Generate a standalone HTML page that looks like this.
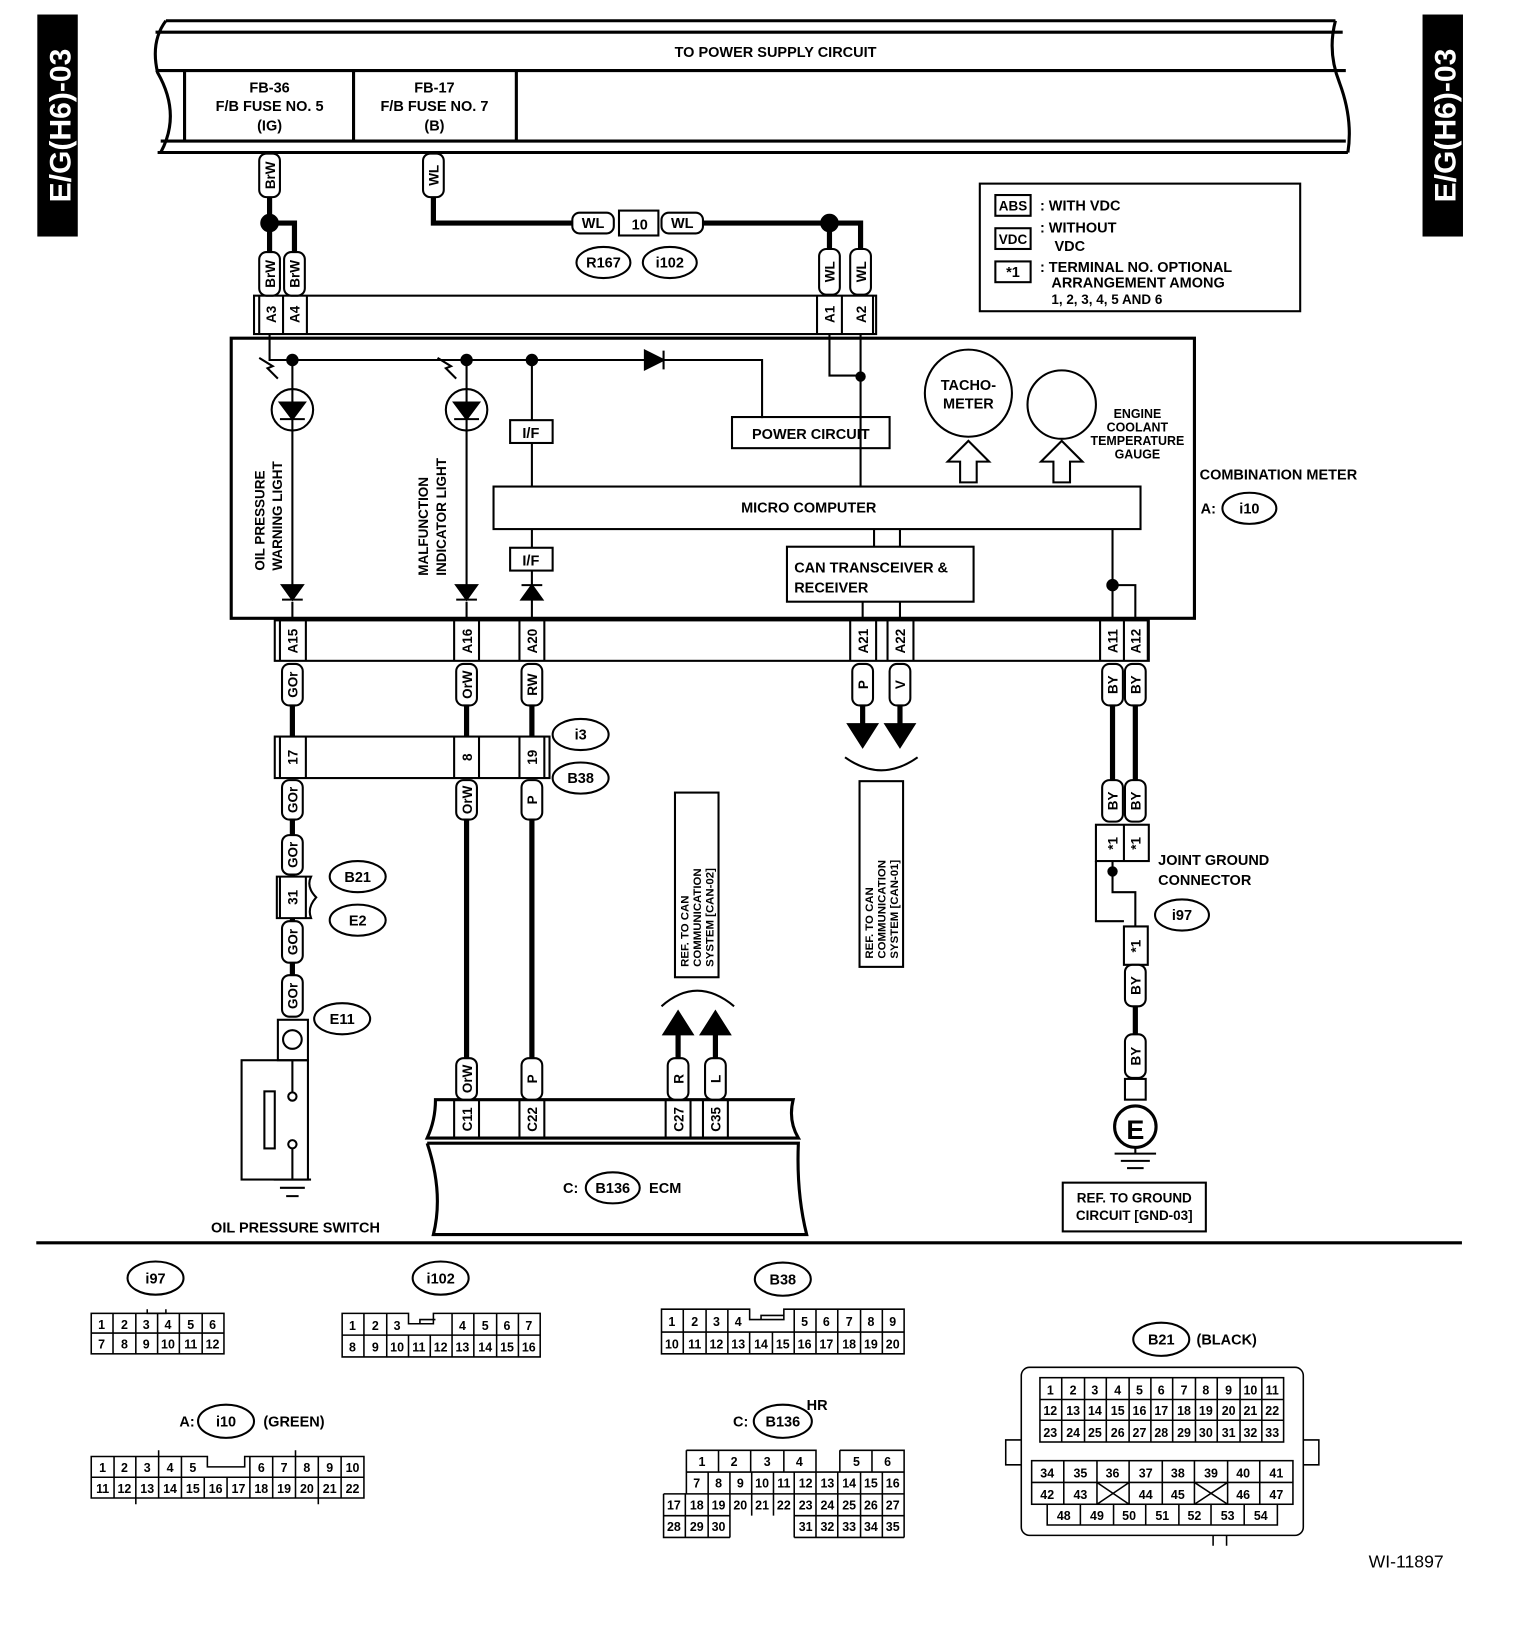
<!DOCTYPE html>
<html><head><meta charset="utf-8"><style>
html,body{margin:0;padding:0;background:#fff}
svg{display:block}
text{font-family:"Liberation Sans",sans-serif;font-weight:bold;fill:#000}
.t{font-size:14px}
.s{font-size:12px;font-weight:normal}
</style></head><body>
<svg width="1520" height="1636" viewBox="0 0 1466 1577" preserveAspectRatio="none" xmlns="http://www.w3.org/2000/svg">
<g fill="none" stroke="#000" stroke-width="2">
<rect x="37" y="15" width="37" height="212" fill="#000"/>
<rect x="1373" y="15" width="37" height="212" fill="#000"/>
<path d="M160 20 H1288 M150 31 H1295 M150 68 H1298 M155 136 H1298 M152 147 H1300" stroke-width="3"/>
<path d="M160 20 Q145 40 152 70 Q175 110 155 147" stroke-width="3"/>
<path d="M1288 20 Q1280 50 1292 80 Q1305 115 1300 147" stroke-width="3"/>
<path d="M178 68 V136 M341 68 V136 M498 68 V136" stroke-width="3"/>
<g stroke-width="5">
<path d="M260 190 V245 M260 215 H284 V245"/>
<path d="M418 190 V215 H555 M678 215 H800 V240 M800 215 H830 V240"/>
</g>
<circle cx="260" cy="215" r="8" fill="#000"/>
<circle cx="800" cy="215" r="8" fill="#000"/>
<rect x="597" y="203" width="38" height="24"/>
<rect x="245" y="285" width="600" height="37"/>
<path d="M250 285 V322 M273 285 V322 M296 285 V322 M788 285 V322 M812 285 V322 M842 285 V322"/>
<rect x="223" y="326" width="929" height="270" stroke-width="3"/>
<path d="M260 322 V347 H735 V403 M282 347 V565 M450 347 V565 M513 347 V405 M513 427 V469 M513 510 V528 M513 550 V596 M282 580 V598 M450 580 V598"/>
<path d="M800 322 V362 H830 M830 322 V469"/>
<circle cx="830" cy="363" r="4" fill="#000"/>
<circle cx="282" cy="347" r="5" fill="#000"/><circle cx="450" cy="347" r="5" fill="#000"/><circle cx="513" cy="347" r="5" fill="#000"/>
<path d="M622 338 L640 347 L622 356 Z M640 338 V356" fill="#000"/>
<circle cx="282" cy="395" r="20"/><circle cx="450" cy="395" r="20"/>
<path d="M270 388 H294 L282 404 Z M270 404 H294 M438 388 H462 L450 404 Z M438 404 H462" fill="#000"/>
<path d="M268 365 L258 355 L263 353 L250 345 M440 365 L430 355 L435 353 L422 345"/>
<path d="M272 564 H292 L282 578 Z M272 578 H292 M440 564 H460 L450 578 Z M440 578 H460 M503 578 H523 L513 564 Z M503 564 H523" fill="#000"/>
<rect x="492" y="405" width="41" height="22"/><rect x="492" y="528" width="41" height="22"/>
<rect x="706" y="402" width="152" height="30"/>
<rect x="476" y="469" width="624" height="41"/>
<rect x="759" y="527" width="180" height="53"/>
<circle cx="934" cy="379" r="42"/><circle cx="1024" cy="390" r="33"/>
<path d="M926 465 V445 H914 L934 425 L954 445 H942 V465 Z M1016 465 V445 H1004 L1024 425 L1044 445 H1032 V465 Z"/>
<path d="M843 510 V527 M868 510 V527 M832 580 V598 M868 580 V598 M1073 510 V596 M1073 564 H1095 V596"/>
<circle cx="1073" cy="564" r="5" fill="#000"/>
<rect x="265" y="598" width="843" height="39"/>
<path d="M270 598 V637 M295 598 V637 M438 598 V637 M462 598 V637 M501 598 V637 M525 598 V637 M820 598 V637 M845 598 V637 M856 598 V637 M881 598 V637 M1061 598 V637 M1084 598 V637 M1107 598 V637"/>
<g stroke-width="5">
<path d="M282 680 V710 M450 680 V710 M513 680 V710 M282 790 V805 M282 842 V845 M282 885 V888 M282 928 V940 M450 790 V1020 M513 790 V1020 M1073 680 V752 M1095 680 V752 M1095 970 V997 M832 680 V700 M868 680 V700 M654 995 V1020 M690 995 V1020"/>
</g>
<path d="M818 698 H846 L832 720 Z M854 698 H882 L868 720 Z M640 997 H668 L654 975 Z M676 997 H704 L690 975 Z" fill="#000"/>
<path d="M815 730 Q850 755 885 730 M638 970 Q672 940 708 970"/>
<rect x="265" y="710" width="265" height="40"/>
<path d="M270 710 V750 M295 710 V750 M438 710 V750 M462 710 V750 M501 710 V750 M525 710 V750"/>
<path d="M267 845 H300 Q295 855 305 865 Q296 875 300 885 H267 Z M270 845 V885 M295 845 V885"/>
<rect x="268" y="983" width="29" height="39"/><circle cx="282" cy="1002" r="9"/>
<rect x="233" y="1022" width="64" height="115"/>
<rect x="255" y="1052" width="10" height="55"/>
<circle cx="282" cy="1057" r="4"/><circle cx="282" cy="1103" r="4"/>
<path d="M282 1022 V1053 M282 1107 V1137 M264 1137 H300 M270 1145 H294 M276 1153 H288"/>
<rect x="651" y="764" width="42" height="178"/>
<rect x="829" y="753" width="42" height="179"/>
<path d="M420 1060 H765 Q760 1080 770 1097 H412 Q420 1080 420 1060 Z" stroke-width="3"/>
<path d="M438 1060 V1097 M462 1060 V1097 M501 1060 V1097 M525 1060 V1097 M642 1060 V1097 M666 1060 V1097 M678 1060 V1097 M702 1060 V1097"/>
<path d="M412 1102 H770 Q768 1150 778 1190 H418 Q428 1150 412 1102" stroke-width="3"/>
<rect x="1057" y="795" width="51" height="35"/>
<path d="M1084 795 V830 M1057 830 V888 H1084 M1073 830 V860 H1095 V893 M1084 893 H1107 V930 H1084 Z"/>
<circle cx="1073" cy="840" r="4" fill="#000"/>
<rect x="1085" y="1040" width="20" height="20"/>
<circle cx="1095" cy="1086" r="20" stroke-width="3"/>
<path d="M1095 1106 V1112 M1075 1112 H1115 M1081 1119 H1109 M1087 1126 H1103"/>
<rect x="1025" y="1140" width="138" height="47"/>
<rect x="945" y="177" width="309" height="123"/>
<rect x="960" y="188" width="34" height="20"/><rect x="960" y="220" width="34" height="20"/><rect x="960" y="252" width="34" height="20"/>
<path d="M35 1198 H1410" stroke-width="3"/>
</g>
<g fill="#fff" stroke="#000" stroke-width="2">
<rect x="250" y="148" width="20" height="42" rx="7"/>
<rect x="408" y="148" width="20" height="42" rx="7"/>
<rect x="250" y="243" width="20" height="42" rx="7"/><rect x="274" y="243" width="20" height="42" rx="7"/>
<rect x="790" y="240" width="20" height="44" rx="7"/><rect x="820" y="240" width="20" height="44" rx="7"/>
<rect x="552" y="205" width="40" height="20" rx="7"/><rect x="638" y="205" width="40" height="20" rx="7"/>
<rect x="272" y="640" width="20" height="40" rx="7"/><rect x="440" y="640" width="20" height="40" rx="7"/><rect x="503" y="640" width="20" height="40" rx="7"/>
<rect x="822" y="640" width="20" height="40" rx="7"/><rect x="858" y="640" width="20" height="40" rx="7"/>
<rect x="1063" y="640" width="20" height="40" rx="7"/><rect x="1085" y="640" width="20" height="40" rx="7"/>
<rect x="272" y="752" width="20" height="38" rx="7"/><rect x="440" y="752" width="20" height="38" rx="7"/><rect x="503" y="752" width="20" height="38" rx="7"/>
<rect x="272" y="805" width="20" height="38" rx="7"/><rect x="272" y="888" width="20" height="40" rx="7"/><rect x="272" y="940" width="20" height="40" rx="7"/>
<rect x="440" y="1020" width="20" height="40" rx="7"/><rect x="503" y="1020" width="20" height="40" rx="7"/>
<rect x="644" y="1020" width="20" height="40" rx="7"/><rect x="680" y="1020" width="20" height="40" rx="7"/>
<rect x="1063" y="752" width="20" height="40" rx="7"/><rect x="1085" y="752" width="20" height="40" rx="7"/>
<rect x="1085" y="930" width="20" height="40" rx="7"/><rect x="1085" y="997" width="20" height="42" rx="7"/>
<ellipse cx="582" cy="253" rx="26" ry="15"/><ellipse cx="646" cy="253" rx="26" ry="15"/>
<ellipse cx="1205" cy="490" rx="26" ry="15"/>
<ellipse cx="560" cy="708" rx="27" ry="15"/><ellipse cx="560" cy="750" rx="27" ry="15"/>
<ellipse cx="345" cy="845" rx="27" ry="15"/><ellipse cx="345" cy="887" rx="27" ry="15"/>
<ellipse cx="330" cy="982" rx="27" ry="15"/><ellipse cx="1140" cy="882" rx="26" ry="15"/>
<ellipse cx="591" cy="1145" rx="26" ry="15"/>
<ellipse cx="150" cy="1232" rx="27" ry="16"/><ellipse cx="425" cy="1232" rx="27" ry="16"/><ellipse cx="755" cy="1233" rx="27" ry="16"/>
<ellipse cx="218" cy="1370" rx="27" ry="16"/><ellipse cx="755" cy="1370" rx="28" ry="16"/><ellipse cx="1120" cy="1291" rx="27" ry="16"/>
</g>
<g class="t">
<text x="0" y="0" transform="translate(68,121) rotate(-90)" text-anchor="middle" style="font-size:29px;fill:#fff">E/G(H6)-03</text>
<text x="0" y="0" transform="translate(1404,121) rotate(-90)" text-anchor="middle" style="font-size:29px;fill:#fff">E/G(H6)-03</text>
<text x="748" y="55" text-anchor="middle">TO POWER SUPPLY CIRCUIT</text>
<g text-anchor="middle"><text x="260" y="89">FB-36</text><text x="260" y="107">F/B FUSE NO. 5</text><text x="260" y="126">(IG)</text>
<text x="419" y="89">FB-17</text><text x="419" y="107">F/B FUSE NO. 7</text><text x="419" y="126">(B)</text>
<text x="572" y="220">WL</text><text x="617" y="221">10</text><text x="658" y="220">WL</text>
<text x="582" y="258">R167</text><text x="646" y="258">i102</text>
<text x="512" y="422">I/F</text><text x="512" y="545">I/F</text>
<text x="782" y="423">POWER CIRCUIT</text><text x="780" y="494">MICRO COMPUTER</text>
<text x="934" y="376">TACHO-</text><text x="934" y="394">METER</text>
<text x="1205" y="495">i10</text><text x="560" y="713">i3</text><text x="560" y="755">B38</text>
<text x="345" y="850">B21</text><text x="345" y="892">E2</text><text x="330" y="987">E11</text><text x="1140" y="887">i97</text>
<text x="591" y="1150">B136</text>
<text x="285" y="1188">OIL PRESSURE SWITCH</text>
<text x="1095" y="1098" style="font-size:26px">E</text>
<text x="1094" y="1159" style="font-size:13px">REF. TO GROUND</text><text x="1094" y="1176" style="font-size:13px">CIRCUIT [GND-03]</text>
<text x="977" y="203" style="font-size:13px">ABS</text><text x="977" y="235" style="font-size:13px">VDC</text><text x="977" y="267">*1</text>
</g>
<text x="766" y="552">CAN TRANSCEIVER &amp;</text><text x="766" y="571">RECEIVER</text>
<g style="font-size:12px" text-anchor="middle"><text x="1097" y="403">ENGINE</text><text x="1097" y="416">COOLANT</text><text x="1097" y="429">TEMPERATURE</text><text x="1097" y="442">GAUGE</text></g>
<text x="1157" y="462">COMBINATION METER</text><text x="1158" y="495">A:</text>
<text x="1117" y="834">JOINT GROUND</text><text x="1117" y="853">CONNECTOR</text>
<text x="543" y="1150">C:</text><text x="626" y="1150">ECM</text>
<text x="1003" y="203">:  WITH VDC</text><text x="1003" y="224">:  WITHOUT</text><text x="1017" y="242">VDC</text>
<text x="1003" y="262">:  TERMINAL NO. OPTIONAL</text><text x="1014" y="277">ARRANGEMENT AMONG</text><text x="1014" y="293" style="font-size:13px">1, 2, 3, 4, 5 AND 6</text>
<g text-anchor="middle" style="font-size:13px">
<text transform="translate(265,169) rotate(-90)">BrW</text><text transform="translate(423,169) rotate(-90)">WL</text>
<text transform="translate(265,264) rotate(-90)">BrW</text><text transform="translate(289,264) rotate(-90)">BrW</text>
<text transform="translate(805,262) rotate(-90)">WL</text><text transform="translate(835,262) rotate(-90)">WL</text>
<text transform="translate(266,303) rotate(-90)">A3</text><text transform="translate(289,303) rotate(-90)">A4</text>
<text transform="translate(805,303) rotate(-90)">A1</text><text transform="translate(835,303) rotate(-90)">A2</text>
<text transform="translate(287,618) rotate(-90)">A15</text><text transform="translate(455,618) rotate(-90)">A16</text><text transform="translate(518,618) rotate(-90)">A20</text>
<text transform="translate(837,618) rotate(-90)">A21</text><text transform="translate(873,618) rotate(-90)">A22</text>
<text transform="translate(1078,618) rotate(-90)">A11</text><text transform="translate(1100,618) rotate(-90)">A12</text>
<text transform="translate(287,660) rotate(-90)">GOr</text><text transform="translate(455,660) rotate(-90)">OrW</text><text transform="translate(518,660) rotate(-90)">RW</text>
<text transform="translate(837,660) rotate(-90)">P</text><text transform="translate(873,660) rotate(-90)">V</text>
<text transform="translate(1078,660) rotate(-90)">BY</text><text transform="translate(1100,660) rotate(-90)">BY</text>
<text transform="translate(287,730) rotate(-90)">17</text><text transform="translate(455,730) rotate(-90)">8</text><text transform="translate(518,730) rotate(-90)">19</text>
<text transform="translate(287,771) rotate(-90)">GOr</text><text transform="translate(455,771) rotate(-90)">OrW</text><text transform="translate(518,771) rotate(-90)">P</text>
<text transform="translate(287,824) rotate(-90)">GOr</text><text transform="translate(287,865) rotate(-90)">31</text>
<text transform="translate(287,908) rotate(-90)">GOr</text><text transform="translate(287,960) rotate(-90)">GOr</text>
<text transform="translate(455,1040) rotate(-90)">OrW</text><text transform="translate(518,1040) rotate(-90)">P</text>
<text transform="translate(659,1040) rotate(-90)">R</text><text transform="translate(695,1040) rotate(-90)">L</text>
<text transform="translate(455,1079) rotate(-90)">C11</text><text transform="translate(518,1079) rotate(-90)">C22</text>
<text transform="translate(659,1079) rotate(-90)">C27</text><text transform="translate(695,1079) rotate(-90)">C35</text>
<text transform="translate(1078,772) rotate(-90)">BY</text><text transform="translate(1100,772) rotate(-90)">BY</text>
<text transform="translate(1078,813) rotate(-90)">*1</text><text transform="translate(1100,813) rotate(-90)">*1</text>
<text transform="translate(1100,912) rotate(-90)">*1</text>
<text transform="translate(1100,950) rotate(-90)">BY</text><text transform="translate(1100,1018) rotate(-90)">BY</text>
</g>
<g style="font-size:13px">
<text transform="translate(255,550) rotate(-90)">OIL PRESSURE</text><text transform="translate(272,550) rotate(-90)">WARNING LIGHT</text>
<text transform="translate(413,555) rotate(-90)">MALFUNCTION</text><text transform="translate(430,555) rotate(-90)">INDICATOR LIGHT</text>
</g>
<g style="font-size:11px">
<text transform="translate(664,932) rotate(-90)">REF. TO CAN</text><text transform="translate(676,932) rotate(-90)">COMMUNICATION</text><text transform="translate(688,932) rotate(-90)">SYSTEM [CAN-02]</text>
<text transform="translate(842,924) rotate(-90)">REF. TO CAN</text><text transform="translate(854,924) rotate(-90)">COMMUNICATION</text><text transform="translate(866,924) rotate(-90)">SYSTEM [CAN-01]</text>
</g>
<g text-anchor="middle"><text x="150" y="1237">i97</text><text x="425" y="1237">i102</text><text x="755" y="1238">B38</text>
<text x="218" y="1375">i10</text><text x="755" y="1375">B136</text><text x="1120" y="1296">B21</text></g>
<text x="173" y="1375">A:</text><text x="254" y="1375">(GREEN)</text>
<text x="707" y="1375">C:</text><text x="778" y="1359">HR</text><text x="1154" y="1296">(BLACK)</text>
<text x="1320" y="1511" style="font-size:17px;font-weight:normal">WI-11897</text>
</g>
<g fill="none" stroke="#000" stroke-width="1.5">
<rect x="88" y="1266" width="128" height="39"/><path d="M88 1285 H216 M109 1266 V1305 M131 1266 V1305 M152 1266 V1305 M173 1266 V1305 M195 1266 V1305 M142 1262 V1266 H160 V1262"/>
<path d="M330 1266 H394 V1276 H418 V1266 H521 V1308 H330 Z M330 1287 H521 M351 1266 V1308 M373 1266 V1308 M394 1287 V1308 M415 1287 V1308 M436 1266 V1308 M457 1266 V1308 M479 1266 V1308 M500 1266 V1308 M405 1276 V1272 H420"/>
<path d="M638 1262 H723 V1272 H756 V1262 H872 V1305 H638 Z M638 1284 H872 M659 1262 V1305 M681 1262 V1305 M702 1262 V1305 M723 1284 V1305 M745 1284 V1305 M766 1262 V1305 M787 1262 V1305 M808 1262 V1305 M830 1262 V1305 M851 1262 V1305 M734 1272 V1268 H756"/>
<path d="M88 1404 H200 V1414 H236 V1404 H351 V1444 H88 Z M88 1424 H351 M110 1404 V1444 M131 1404 V1444 M153 1404 V1444 M175 1404 V1444 M197 1424 V1444 M219 1424 V1444 M241 1404 V1444 M263 1404 V1444 M285 1404 V1444 M307 1404 V1444 M329 1404 V1444 M153 1398 V1404 M285 1398 V1404 M131 1444 V1450 M307 1444 V1450"/>
<path d="M662 1398 H787 V1419 M662 1398 V1440 M693 1398 V1419 M724 1398 V1419 M756 1398 V1419 M810 1398 H872 V1482 M810 1398 V1419 M841 1398 V1419 M662 1419 H872 M640 1440 H872 M640 1440 V1482 H704 M704 1440 V1482 M766 1482 H872 M766 1440 V1482 M640 1461 H704 M766 1461 H872 M683 1419 V1482 M704 1419 V1440 M725 1419 V1461 M746 1419 V1461 M766 1419 V1440 M787 1419 V1482 M808 1419 V1482 M830 1419 V1482 M851 1419 V1482 M661 1440 V1482 M683 1440 V1482"/>
<rect x="985" y="1318" width="272" height="162" rx="8"/>
<path d="M985 1388 H970 V1412 H985 M1257 1388 H1272 V1412 H1257 M1170 1480 V1490 M1183 1480 V1490"/>
<rect x="1003" y="1328" width="235" height="62"/>
<path d="M1003 1349 H1238 M1003 1369 H1238 M1024 1328 V1390 M1046 1328 V1390 M1067 1328 V1390 M1089 1328 V1390 M1110 1328 V1390 M1131 1328 V1390 M1153 1328 V1390 M1174 1328 V1390 M1196 1328 V1390 M1217 1328 V1390"/>
<rect x="995" y="1408" width="252" height="42"/>
<path d="M995 1429 H1247 M1026 1408 V1450 M1058 1408 V1450 M1089 1408 V1450 M1121 1408 V1450 M1152 1408 V1450 M1184 1408 V1450 M1215 1408 V1450 M1058 1429 L1089 1450 M1089 1429 L1058 1450 M1152 1429 L1184 1450 M1184 1429 L1152 1450"/>
<path d="M1010 1450 V1470 H1232 V1450 M1042 1450 V1470 M1074 1450 V1470 M1105 1450 V1470 M1137 1450 V1470 M1168 1450 V1470 M1200 1450 V1470"/>
</g>
<g class="s" text-anchor="middle">
<text x="98" y="1281">1</text><text x="120" y="1281">2</text><text x="141" y="1281">3</text><text x="162" y="1281">4</text><text x="184" y="1281">5</text><text x="205" y="1281">6</text>
<text x="98" y="1300">7</text><text x="120" y="1300">8</text><text x="141" y="1300">9</text><text x="162" y="1300">10</text><text x="184" y="1300">11</text><text x="205" y="1300">12</text>
<text x="340" y="1282">1</text><text x="362" y="1282">2</text><text x="383" y="1282">3</text><text x="446" y="1282">4</text><text x="468" y="1282">5</text><text x="489" y="1282">6</text><text x="510" y="1282">7</text>
<text x="340" y="1303">8</text><text x="362" y="1303">9</text><text x="383" y="1303">10</text><text x="404" y="1303">11</text><text x="425" y="1303">12</text><text x="446" y="1303">13</text><text x="468" y="1303">14</text><text x="489" y="1303">15</text><text x="510" y="1303">16</text>
<text x="648" y="1278">1</text><text x="670" y="1278">2</text><text x="691" y="1278">3</text><text x="712" y="1278">4</text><text x="776" y="1278">5</text><text x="797" y="1278">6</text><text x="819" y="1278">7</text><text x="840" y="1278">8</text><text x="861" y="1278">9</text>
<text x="648" y="1300">10</text><text x="670" y="1300">11</text><text x="691" y="1300">12</text><text x="712" y="1300">13</text><text x="734" y="1300">14</text><text x="755" y="1300">15</text><text x="776" y="1300">16</text><text x="797" y="1300">17</text><text x="819" y="1300">18</text><text x="840" y="1300">19</text><text x="861" y="1300">20</text>
<text x="99" y="1419">1</text><text x="120" y="1419">2</text><text x="142" y="1419">3</text><text x="164" y="1419">4</text><text x="186" y="1419">5</text><text x="252" y="1419">6</text><text x="274" y="1419">7</text><text x="296" y="1419">8</text><text x="318" y="1419">9</text><text x="340" y="1419">10</text>
<text x="99" y="1439">11</text><text x="120" y="1439">12</text><text x="142" y="1439">13</text><text x="164" y="1439">14</text><text x="186" y="1439">15</text><text x="208" y="1439">16</text><text x="230" y="1439">17</text><text x="252" y="1439">18</text><text x="274" y="1439">19</text><text x="296" y="1439">20</text><text x="318" y="1439">21</text><text x="340" y="1439">22</text>
<text x="677" y="1413">1</text><text x="708" y="1413">2</text><text x="740" y="1413">3</text><text x="771" y="1413">4</text><text x="826" y="1413">5</text><text x="856" y="1413">6</text>
<text x="672" y="1434">7</text><text x="693" y="1434">8</text><text x="714" y="1434">9</text><text x="735" y="1434">10</text><text x="756" y="1434">11</text><text x="777" y="1434">12</text><text x="798" y="1434">13</text><text x="819" y="1434">14</text><text x="840" y="1434">15</text><text x="861" y="1434">16</text>
<text x="650" y="1455">17</text><text x="672" y="1455">18</text><text x="693" y="1455">19</text><text x="714" y="1455">20</text><text x="735" y="1455">21</text><text x="756" y="1455">22</text><text x="777" y="1455">23</text><text x="798" y="1455">24</text><text x="819" y="1455">25</text><text x="840" y="1455">26</text><text x="861" y="1455">27</text>
<text x="650" y="1476">28</text><text x="672" y="1476">29</text><text x="693" y="1476">30</text><text x="777" y="1476">31</text><text x="798" y="1476">32</text><text x="819" y="1476">33</text><text x="840" y="1476">34</text><text x="861" y="1476">35</text>
<text x="1013" y="1344">1</text><text x="1035" y="1344">2</text><text x="1056" y="1344">3</text><text x="1078" y="1344">4</text><text x="1099" y="1344">5</text><text x="1120" y="1344">6</text><text x="1142" y="1344">7</text><text x="1163" y="1344">8</text><text x="1185" y="1344">9</text><text x="1206" y="1344">10</text><text x="1227" y="1344">11</text>
<text x="1013" y="1364">12</text><text x="1035" y="1364">13</text><text x="1056" y="1364">14</text><text x="1078" y="1364">15</text><text x="1099" y="1364">16</text><text x="1120" y="1364">17</text><text x="1142" y="1364">18</text><text x="1163" y="1364">19</text><text x="1185" y="1364">20</text><text x="1206" y="1364">21</text><text x="1227" y="1364">22</text>
<text x="1013" y="1385">23</text><text x="1035" y="1385">24</text><text x="1056" y="1385">25</text><text x="1078" y="1385">26</text><text x="1099" y="1385">27</text><text x="1120" y="1385">28</text><text x="1142" y="1385">29</text><text x="1163" y="1385">30</text><text x="1185" y="1385">31</text><text x="1206" y="1385">32</text><text x="1227" y="1385">33</text>
<text x="1010" y="1424">34</text><text x="1042" y="1424">35</text><text x="1073" y="1424">36</text><text x="1105" y="1424">37</text><text x="1136" y="1424">38</text><text x="1168" y="1424">39</text><text x="1199" y="1424">40</text><text x="1231" y="1424">41</text>
<text x="1010" y="1445">42</text><text x="1042" y="1445">43</text><text x="1105" y="1445">44</text><text x="1136" y="1445">45</text><text x="1199" y="1445">46</text><text x="1231" y="1445">47</text>
<text x="1026" y="1465">48</text><text x="1058" y="1465">49</text><text x="1089" y="1465">50</text><text x="1121" y="1465">51</text><text x="1152" y="1465">52</text><text x="1184" y="1465">53</text><text x="1216" y="1465">54</text>
</g>
</svg>
</body></html>
